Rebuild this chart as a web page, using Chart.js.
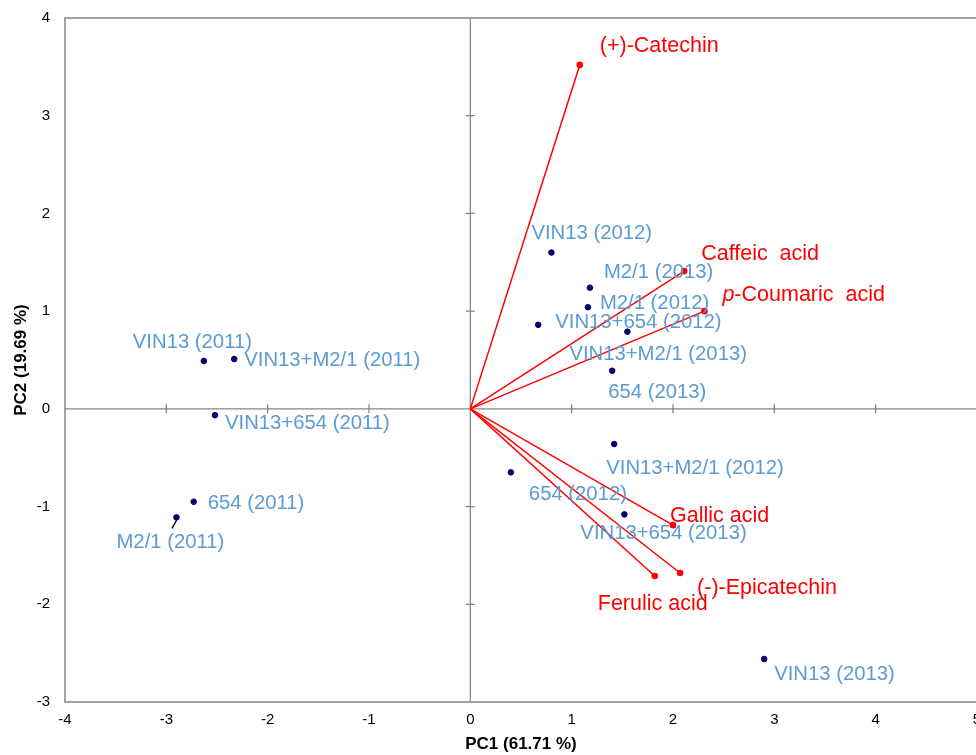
<!DOCTYPE html>
<html>
<head>
<meta charset="utf-8">
<script src="https://cdn.jsdelivr.net/npm/chart.js@4.4.1/dist/chart.umd.min.js"></script>
<style>
  html, body { margin: 0; padding: 0; background: #fff; overflow: hidden; }
  #wrap { width: 976px; height: 755px; overflow: hidden; position: relative; }
  canvas { display: block; }
</style>
</head>
<body>
<div id="wrap"><canvas id="c" width="990" height="755"></canvas></div>
<script>
// ---- data ----
const sampleNames = ['VIN13 (2011)','VIN13+M2/1 (2011)','VIN13+654 (2011)','654 (2011)','M2/1 (2011)',
  'VIN13 (2012)','M2/1 (2013)','M2/1 (2012)','VIN13+654 (2012)','VIN13+M2/1 (2013)','654 (2013)',
  'VIN13+M2/1 (2012)','654 (2012)','VIN13+654 (2013)','VIN13 (2013)'];
const samplePC1 = [-2.63,-2.33,-2.52,-2.73,-2.90,0.80,1.18,1.16,0.67,1.55,1.40,1.42,0.40,1.52,2.90];
const samplePC2 = [0.49,0.51,-0.065,-0.95,-1.11,1.60,1.24,1.04,0.86,0.79,0.39,-0.36,-0.65,-1.08,-2.56];

const loadingNames = ['(+)-Catechin','Caffeic  acid','p-Coumaric  acid','Gallic acid','(-)-Epicatechin','Ferulic acid'];
const loadingPC1 = [1.08,2.11,2.31,2.00,2.07,1.82];
const loadingPC2 = [3.52,1.41,1.00,-1.19,-1.68,-1.71];

const xTicks = [-4,-3,-2,-1,0,1,2,3,4,5];
const yTicks = [-3,-2,-1,0,1,2,3,4];
const xTitle = 'PC1 (61.71 %)';
const yTitle = 'PC2 (19.69 %)';

// ---- layout (label offsets in pixels from each mark) ----
const sampleLabelOffsets = [[-71,-19],[10,1],[10,8],[14,2],[-60,25],[-20,-19],[14,-15],[12,-4],[17,-2],
  [-58,23],[-4,22],[-8,24],[18,22],[-44,19],[10,15]];
const loadingLabelOffsets = [[20,-19],[17,-17],[18,-16],[-3,-9],[17,15],[-57,28]];
const leaderIndex = 4; // M2/1 (2011) has a short black leader line

const FONT = '"Liberation Sans", Arial, sans-serif';
const BLUE = '#5b9bd5';
const RED = '#ff0000';
const NAVY = '#000070';
const FRAME = '#868686';

const datasets = [{
  label: 'samples',
  data: samplePC1.map((x, i) => ({x: x, y: samplePC2[i]})),
  backgroundColor: NAVY, borderColor: NAVY,
  pointRadius: 2.8, showLine: false, order: 0
}];
loadingNames.forEach((n, i) => {
  datasets.push({
    label: n,
    data: [{x: 0, y: 0}, {x: loadingPC1[i], y: loadingPC2[i]}],
    showLine: true, borderColor: RED, backgroundColor: RED, borderWidth: 1.5,
    pointRadius: [0, 3.3], pointBorderWidth: 0, order: 1
  });
});

const framePlugin = {
  id: 'frame',
  beforeDatasetsDraw(chart) {
    const {ctx, chartArea: a, scales: {x, y}} = chart;
    ctx.save();
    ctx.strokeStyle = FRAME;
    ctx.lineWidth = 1.5;
    ctx.beginPath();
    ctx.rect(a.left, a.top, a.right - a.left, a.bottom - a.top);
    ctx.stroke();
    const x0 = x.getPixelForValue(0), y0 = y.getPixelForValue(0);
    ctx.lineWidth = 1.3;
    ctx.beginPath();
    ctx.moveTo(a.left, y0); ctx.lineTo(a.right, y0);
    ctx.moveTo(x0, a.top); ctx.lineTo(x0, a.bottom);
    xTicks.forEach(v => {
      if (v === 0 || v === xTicks[0] || v === xTicks[xTicks.length-1]) return;
      const px = x.getPixelForValue(v);
      ctx.moveTo(px, y0 - 4.5); ctx.lineTo(px, y0 + 4.5);
    });
    yTicks.forEach(v => {
      if (v === 0 || v === yTicks[0] || v === yTicks[yTicks.length-1]) return;
      const py = y.getPixelForValue(v);
      ctx.moveTo(x0 - 4.5, py); ctx.lineTo(x0 + 4.5, py);
    });
    ctx.stroke();
    ctx.restore();
  },
  afterDatasetsDraw(chart) {
    const {ctx, scales: {x, y}} = chart;
    ctx.save();
    ctx.textBaseline = 'middle';
    ctx.textAlign = 'left';
    // leader line
    {
      const px = x.getPixelForValue(samplePC1[leaderIndex]);
      const py = y.getPixelForValue(samplePC2[leaderIndex]);
      ctx.strokeStyle = '#000';
      ctx.lineWidth = 1.3;
      ctx.beginPath();
      ctx.moveTo(px + 0.5, py + 2);
      ctx.lineTo(px - 4.5, py + 11);
      ctx.stroke();
    }
    ctx.fillStyle = BLUE;
    ctx.font = '20.3px ' + FONT;
    sampleNames.forEach((n, i) => {
      const px = x.getPixelForValue(samplePC1[i]);
      const py = y.getPixelForValue(samplePC2[i]);
      const o = sampleLabelOffsets[i];
      ctx.fillText(n, px + o[0], py + o[1]);
    });
    ctx.fillStyle = RED;
    loadingNames.forEach((n, i) => {
      const px = x.getPixelForValue(loadingPC1[i]);
      const py = y.getPixelForValue(loadingPC2[i]);
      const o = loadingLabelOffsets[i];
      let lx = px + o[0];
      const ly = py + o[1];
      let txt = n;
      if (n.startsWith('p-')) {
        ctx.font = 'italic 21.5px ' + FONT;
        ctx.fillText('p', lx, ly);
        lx += ctx.measureText('p').width;
        txt = n.slice(1);
      }
      ctx.font = '21.5px ' + FONT;
      ctx.fillText(txt, lx, ly);
    });
    ctx.restore();
  }
};

new Chart(document.getElementById('c'), {
  type: 'scatter',
  data: { datasets },
  options: {
    responsive: false,
    animation: false,
    devicePixelRatio: 1,
    layout: { padding: { top: 18, right: 13, left: 0, bottom: 0 } },
    plugins: { legend: { display: false }, tooltip: { enabled: false } },
    scales: {
      x: {
        type: 'linear', min: xTicks[0], max: xTicks[xTicks.length-1],
        afterBuildTicks: s => { s.ticks = xTicks.map(v => ({value: v})); },
        afterFit: s => { s.height = 53; s.paddingLeft = 0; s.paddingRight = 0; },
        grid: { display: false, drawTicks: false },
        border: { display: false },
        ticks: { color: '#000', font: { family: FONT, size: 15 }, padding: 9, maxRotation: 0, autoSkip: false },
        title: { display: true, text: xTitle, color: '#000', font: { family: FONT, size: 17, weight: 'bold' }, padding: { top: 0, bottom: 0 } }
      },
      y: {
        type: 'linear', min: yTicks[0], max: yTicks[yTicks.length-1],
        afterBuildTicks: s => { s.ticks = yTicks.map(v => ({value: v})); },
        afterFit: s => { s.width = 65; s.paddingTop = 0; s.paddingBottom = 0; },
        grid: { display: false, drawTicks: false },
        border: { display: false },
        ticks: { color: '#000', font: { family: FONT, size: 15 }, padding: 15, autoSkip: false },
        title: { display: true, text: yTitle, color: '#000', font: { family: FONT, size: 17, weight: 'bold' }, padding: { top: 11, bottom: 0 } }
      }
    }
  },
  plugins: [framePlugin]
});
</script>
</body>
</html>
